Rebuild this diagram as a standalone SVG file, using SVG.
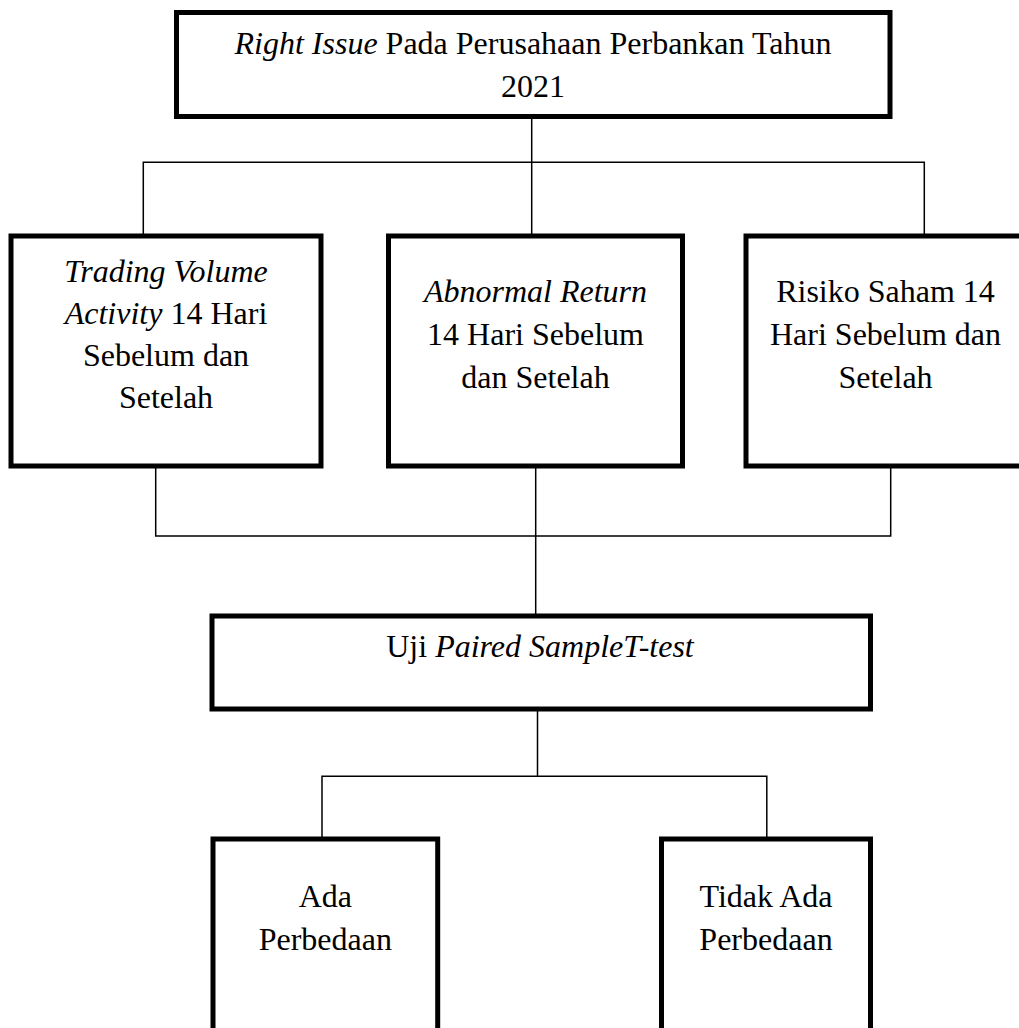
<svg xmlns="http://www.w3.org/2000/svg" width="1019" height="1028" viewBox="0 0 1019 1028">
<style>
.box{fill:#fff;stroke:#000;stroke-width:5}
.ln{fill:none;stroke:#000;stroke-width:1.5}
text{font-family:"Liberation Serif","Times New Roman",serif;font-size:32px;fill:#000;text-anchor:middle}
.i{font-style:italic}
</style>
<rect width="1019" height="1028" fill="#fff"/>
<g id="connectors">
<path class="ln" d="M531.7 116.5V236M143.3 236V162.3H924.3V236"/>
<path class="ln" d="M155.7 466V536H890.7V466M535.7 466V616"/>
<path class="ln" d="M537.5 709V776.3M322 839V776.3H766.8V839"/>
</g>
<g id="n-top">
<rect class="box" x="176.5" y="12.5" width="713.5" height="104"/>
<text x="533" y="53.5"><tspan class="i">Right Issue</tspan> Pada Perusahaan Perbankan Tahun</text>
<text x="533" y="96.5">2021</text>
</g>
<g id="n-tva">
<rect class="box" x="11" y="236" width="310" height="230"/>
<text x="166" y="281.5" class="i">Trading Volume</text>
<text x="166" y="324"><tspan class="i">Activity</tspan> 14 Hari</text>
<text x="166" y="366">Sebelum dan</text>
<text x="166" y="408.3">Setelah</text>
</g>
<g id="n-ar">
<rect class="box" x="388.5" y="236" width="294" height="230"/>
<text x="535.5" y="301.5" class="i">Abnormal Return</text>
<text x="535.5" y="345">14 Hari Sebelum</text>
<text x="535.5" y="388">dan Setelah</text>
</g>
<g id="n-risk">
<rect class="box" x="746" y="236" width="280" height="230"/>
<text x="885.5" y="301.5">Risiko Saham 14</text>
<text x="885.5" y="345">Hari Sebelum dan</text>
<text x="885.5" y="388">Setelah</text>
</g>
<g id="n-uji">
<rect class="box" x="212" y="616" width="658.5" height="93"/>
<text x="540" y="656.5">Uji <tspan class="i">Paired SampleT-test</tspan></text>
</g>
<g id="n-ada">
<rect class="box" x="213" y="839" width="224.7" height="220"/>
<text x="325.3" y="907.3">Ada</text>
<text x="325.3" y="950">Perbedaan</text>
</g>
<g id="n-tidak">
<rect class="box" x="661.5" y="839" width="209" height="220"/>
<text x="766" y="907.3">Tidak Ada</text>
<text x="766" y="950">Perbedaan</text>
</g>
</svg>
